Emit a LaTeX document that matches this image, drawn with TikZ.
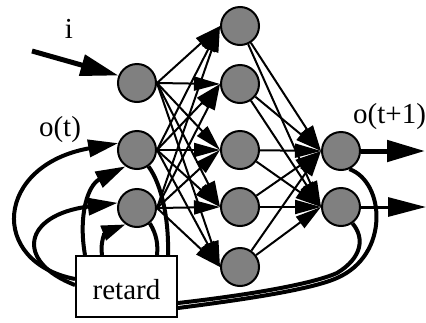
\documentclass[tikz,border=0pt]{standalone}
\usepackage{fontspec}
\setmainfont{Liberation Serif}
\usetikzlibrary{arrows.meta}
\definecolor{nodegray}{RGB}{128,128,128}
\begin{document}
\begin{tikzpicture}[x=1pt,y=-1pt,
  neuron/.style={circle,draw=black,line width=2pt,fill=nodegray,minimum size=38pt,inner sep=0pt},
  lbl/.style={font=\fontsize{29}{34}\selectfont,inner sep=0pt},
  ff/.style={line width=2pt,-{Triangle[length=26pt,width=14pt]}},
  fb/.style={line width=4pt},
  fbarrow/.style={line width=4pt,-{Triangle[length=30pt,width=17pt]}},
  fbarrowsmall/.style={line width=4pt,-{Triangle[length=24pt,width=15pt]}},
  io/.style={line width=5pt,-{Triangle[length=38pt,width=21pt]}},
  iothin/.style={line width=3pt,-{Triangle[length=38pt,width=19pt]}},
  box/.style={draw=black,line width=2pt,fill=white,minimum width=101pt,minimum height=61pt,
    inner sep=0pt,font=\fontsize{29}{34}\selectfont,text height=25pt,text depth=0pt}
]
\useasboundingbox (0,0) rectangle (426,322);

% labels
\node[lbl,anchor=base] (ilbl) at (69,38) {i};
\node[lbl,anchor=base] (otlbl) at (60,136) {o(t)};
\node[lbl,anchor=base west] (o1lbl) at (353,123) {o(t+1)};

% neurons
\node[neuron] (ni) at (137,83) {};
\node[neuron] (not) at (137,150) {};
\node[neuron] (nthree) at (137,208) {};
\node[neuron] (h1) at (240,26) {};
\node[neuron] (h2) at (240,84) {};
\node[neuron] (h3) at (240,150) {};
\node[neuron] (h4) at (240,207) {};
\node[neuron] (h5) at (240,267) {};
\node[neuron] (o1) at (341,151) {};
\node[neuron] (o2) at (341,207) {};

\node[box] (retard) at (126.5,286.5) {retard};

% feed-forward connections
\foreach \s in {ni,not,nthree}
  \foreach \t in {h1,h2,h3,h4,h5}
    \draw[ff] (\s.east) -- (\t.west);
\foreach \s in {h1,h2,h3,h4,h5}
  \foreach \t in {o1,o2}
    \draw[ff] (\s) -- (\t.west);

% input and outputs
\coordinate (istart) at (32,51);
\coordinate (oneend) at (425,151);
\coordinate (twoend) at (426,207);
\draw[io] (istart) -- (ni.158);
\draw[io] (o1.east) -- (oneend);
\draw[iothin] (o2.east) -- (twoend);

% recurrent loops through the delay
\draw[fb] (not.-55) .. controls (162,185) and (169,220) .. ([xshift=41.5pt]retard.north);
\draw[fbarrow] ([xshift=-41.5pt]retard.north) .. controls (78,215) and (88,185) .. (not.-125);
\draw[fb] (nthree.-50) .. controls (157,235) and (158,245) .. ([xshift=30.5pt]retard.north);
\draw[fbarrowsmall] ([xshift=-24.5pt]retard.north) .. controls (100,240) and (106,232) .. (nthree.-125);
\draw[fbarrow] ([yshift=7.5pt]retard.west) .. controls (-12,262) and (-5,165) .. (not.160);
\draw[fbarrow] ([yshift=1.5pt]retard.west) .. controls (15,262) and (22,215) .. (nthree.165);
\draw[fb] (o1.-65) .. controls (385,182) and (390,255) .. (337,278)
  .. controls (310,290) and (240,300) .. ([yshift=-21.5pt]retard.east);
\draw[fb] (o2.-55) .. controls (365,238) and (362,258) .. (337,273)
  .. controls (310,285) and (240,296) .. ([yshift=-16.5pt]retard.east);
\end{tikzpicture}
\end{document}
